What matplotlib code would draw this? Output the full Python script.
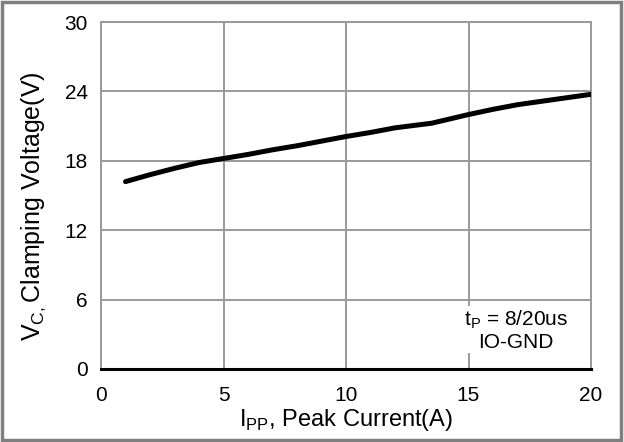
import matplotlib.pyplot as plt
from matplotlib.patches import Rectangle

# peak current (A) vs clamping voltage (V)
ipp = [1.0, 2.0, 3.0, 4.0, 5.0, 6.0, 7.0, 8.0, 9.0, 10.0, 11.0, 12.0, 13.5, 15.0, 16.0, 17.0, 18.0, 19.0, 20.0]
vc = [16.2, 16.8, 17.35, 17.85, 18.2, 18.55, 18.95, 19.3, 19.7, 20.1, 20.45, 20.85, 21.25, 22.0, 22.45, 22.85, 23.15, 23.45, 23.75]

xticks = [0, 5, 10, 15, 20]
yticks = [0, 6, 12, 18, 24, 30]

plt.rcParams['font.family'] = ['Liberation Sans', 'DejaVu Sans']

fig = plt.figure(figsize=(6.24, 4.42), dpi=100)
ax = fig.add_axes([101/624, 1 - 369/442, 490/624, 347/442])

ax.plot(ipp, vc, color='black', linewidth=3.6, solid_capstyle='round', zorder=3)

ax.set_xlim(0, 20)
ax.set_ylim(0, 30)
ax.set_xticks(xticks)
ax.set_yticks(yticks)
ax.grid(True, color='#9a9a9a', linewidth=1.4)
ax.tick_params(length=0, labelsize=15)
ax.tick_params(axis='x', pad=12)
ax.tick_params(axis='y', pad=9.5)
for s in ['left', 'top', 'right']:
    ax.spines[s].set_color('#9a9a9a')
    ax.spines[s].set_linewidth(1.4)
ax.spines['bottom'].set_color('black')
ax.spines['bottom'].set_linewidth(2.2)
ax.spines['bottom'].set_zorder(4)

ax.set_xlabel(r'I$_{\mathregular{PP}}$, Peak Current(A)', fontsize=17, labelpad=2)
ax.set_ylabel(r'V$_{\mathregular{C,}}$Clamping Voltage(V)', fontsize=18, labelpad=12)
ax.yaxis.label.set_y(0.47)

ax.text(16.94, 3.35, 't$_{\\mathregular{P}}$ = 8/20us\nIO-GND', fontsize=15, ha='center', va='center',
        linespacing=1.1, bbox=dict(facecolor='white', edgecolor='none', pad=1), zorder=5)

fig.patches.append(Rectangle((0.004, 0.004), 0.991, 0.992, transform=fig.transFigure,
                             fill=False, edgecolor='#808080', linewidth=2.5))

fig.savefig('out.png', dpi=100)
